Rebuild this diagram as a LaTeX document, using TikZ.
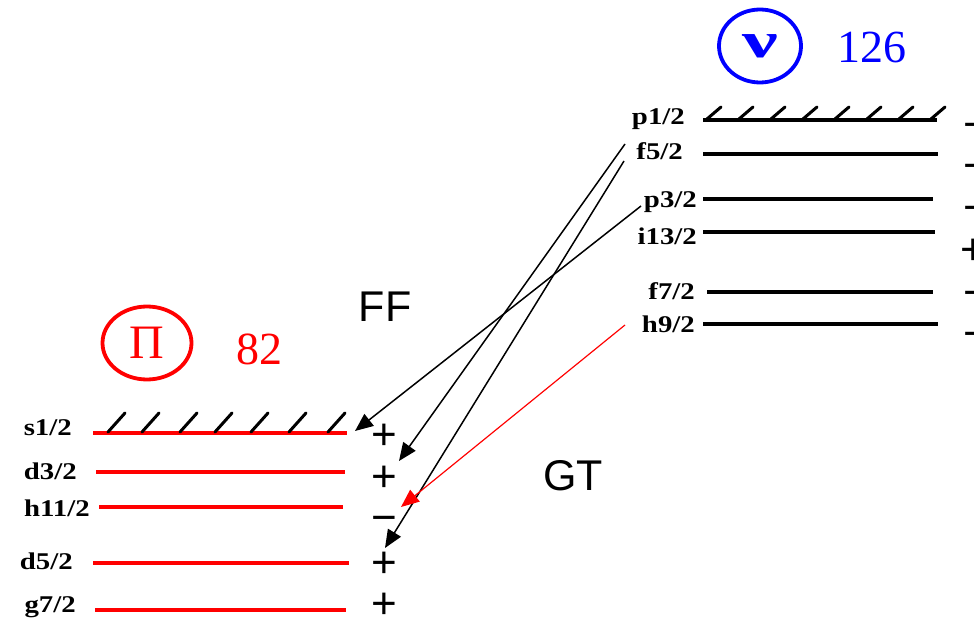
\documentclass[tikz,border=0pt]{standalone}
\usepackage{fontspec}
\usetikzlibrary{arrows.meta,shapes.geometric}
\newfontfamily\lvlfont[FakeStretch=1.2]{Liberation Serif}
\newfontfamily\wideserif[FakeStretch=1.6]{Liberation Serif}
\newfontfamily\plainserif{Liberation Serif}
\newfontfamily\arialfont{Liberation Sans}

\begin{document}
\begin{tikzpicture}[x=1pt,y=-1pt,
  level/.style={line width=3.6pt},
  nlevel/.style={level,black},
  plevel/.style={level,red},
  hatchline/.style={line width=3pt,line cap=round},
  lbl/.style={anchor=east,inner sep=0pt,text height=15.8pt,text depth=0pt,
    font=\lvlfont\bfseries\fontsize{24}{24}\selectfont},
  sign/.style={inner sep=0pt,text height=30.8pt,text depth=0pt,
    font=\arialfont\fontsize{44}{44}\selectfont},
  bigtag/.style={inner sep=0pt,text height=31pt,text depth=0pt,
    font=\arialfont\fontsize{43}{43}\selectfont},
  magic/.style={inner sep=0pt,text height=30.4pt,text depth=0pt,
    font=\plainserif\fontsize{46}{46}\selectfont},
  shellring/.style={ellipse,line width=3.8pt,inner sep=0pt},
  arr/.style={line width=1.5pt,-{Triangle[length=18pt,width=15pt]}},
]
\useasboundingbox (0,0) rectangle (974,620);
\clip (0,0) rectangle (974,620);

% ---------------- neutron shells (N = 126) ----------------
\node[shellring,draw=blue,minimum width=82pt,minimum height=73pt,
  text height=23pt,text depth=0pt,text=blue,
  font=\wideserif\bfseries\fontsize{50}{50}\selectfont] (nu) at (760,46) {ν};
\node[magic,text=blue] (n126) at (872,47) {126};

\coordinate (p12a) at (703,120);  \coordinate (p12b) at (937,120);
\coordinate (f52a) at (703,154);  \coordinate (f52b) at (938,154);
\coordinate (p32a) at (703,199);  \coordinate (p32b) at (933,199);
\coordinate (i132a) at (703,232); \coordinate (i132b) at (935,232);
\coordinate (f72a) at (707,292);  \coordinate (f72b) at (933,292);
\coordinate (h92a) at (703,324);  \coordinate (h92b) at (938,324);

\draw[nlevel] (p12a) -- (p12b);
\draw[nlevel] (f52a) -- (f52b);
\draw[nlevel] (p32a) -- (p32b);
\draw[nlevel] (i132a) -- (i132b);
\draw[nlevel] (f72a) -- (f72b);
\draw[nlevel] (h92a) -- (h92b);

% filled p1/2 shell
\foreach \x in {707,739,771,803,835,867,899,931}
  \draw[hatchline] (\x,119) -- ++(14,-12);

\node[lbl] (lp12)  at (685,117) {p1/2};
\node[lbl] (lf52)  at (683,152) {f5/2};
\node[lbl] (lp32)  at (697,200) {p3/2};
\node[lbl] (li132) at (697,237) {i13/2};
\node[lbl] (lf72)  at (695,292) {f7/2};
\node[lbl] (lh92)  at (695,325) {h9/2};

\node[sign] (sp12)  at (976,124) {−};
\node[sign] (sf52)  at (976,165) {−};
\node[sign] (sp32)  at (976,207) {−};
\node[sign] (si132) at (973,249) {+};
\node[sign] (sf72)  at (976,292) {−};
\node[sign] (sh92)  at (976,333) {−};

% ---------------- proton shells (Z = 82) ----------------
\node[shellring,draw=red,minimum width=89pt,minimum height=73pt,
  text height=31.7pt,text depth=0pt,text=red,
  font=\plainserif\fontsize{48}{48}\selectfont] (pi) at (147,343) {Π};
\node[magic,text=red] (z82) at (259,349) {82};

\coordinate (s12a) at (93,433);  \coordinate (s12b) at (347,433);
\coordinate (d32a) at (96,472);  \coordinate (d32b) at (345,472);
\coordinate (h112a) at (99,507); \coordinate (h112b) at (343,507);
\coordinate (d52a) at (93,563);  \coordinate (d52b) at (349,563);
\coordinate (g72a) at (95,610);  \coordinate (g72b) at (346,610);

\draw[plevel] (s12a) -- (s12b);
\draw[plevel] (d32a) -- (d32b);
\draw[plevel] (h112a) -- (h112b);
\draw[plevel] (d52a) -- (d52b);
\draw[plevel] (g72a) -- (g72b);

% filled s1/2 shell
\foreach \x in {108,142,180,215,251,289,328}
  \draw[hatchline] (\x,432) -- ++(17,-19);

\node[lbl] (ls12)  at (72,428) {s1/2};
\node[lbl] (ld32)  at (77,472) {d3/2};
\node[lbl] (lh112) at (90,509) {h11/2};
\node[lbl] (ld52)  at (73,562) {d5/2};
\node[lbl] (lg72)  at (76,605) {g7/2};

\node[sign] (ss12)  at (384,434) {+};
\node[sign] (sd32)  at (384,476) {+};
\node[sign] (sh112) at (384,517) {−};
\node[sign] (sd52)  at (384,562) {+};
\node[sign] (sg72)  at (384,603) {+};

% ---------------- transitions ----------------
\coordinate (ffAfrom) at (641,206); \coordinate (ffAto) at (355,431);
\coordinate (ffBfrom) at (625,144); \coordinate (ffBto) at (399,461);
\coordinate (ffCfrom) at (624,161); \coordinate (ffCto) at (385,548);
\coordinate (gtfrom)  at (625,325); \coordinate (gtto)  at (401,507);

\draw[arr] (ffAfrom) -- (ffAto);
\draw[arr] (ffBfrom) -- (ffBto);
\draw[arr] (ffCfrom) -- (ffCto);
\draw[arr,red,line width=1.2pt] (gtfrom) -- (gtto);

\node[bigtag] (ff) at (385,306) {FF};
\node[bigtag] (gt) at (573,475) {GT};
\end{tikzpicture}
\end{document}
